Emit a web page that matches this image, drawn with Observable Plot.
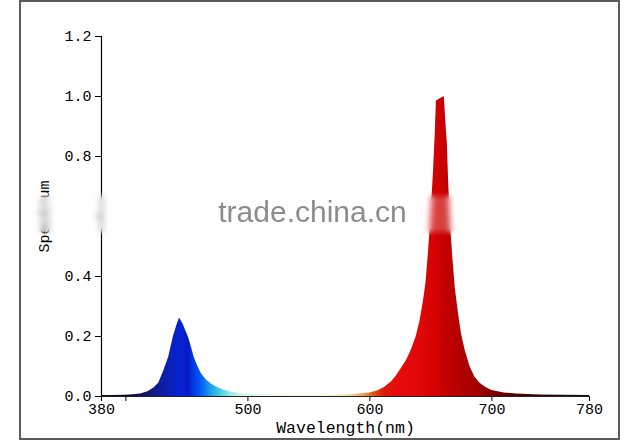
<!DOCTYPE html>
<html>
<head>
<meta charset="utf-8">
<script src="https://cdn.jsdelivr.net/npm/d3@7"></script>
<script src="https://cdn.jsdelivr.net/npm/@observablehq/plot@0.6"></script>
<style>
  html, body { margin: 0; padding: 0; background: #fff; }
  #wrap { position: relative; width: 625px; height: 446px; overflow: hidden; }
  #frame { position: absolute; left: 19px; top: 0px; width: 601px; height: 440px; box-sizing: border-box; border: 2px solid #5a5a5a; pointer-events: none; }
  #band { position: absolute; left: 0; top: 192px; width: 625px; height: 44px;
    backdrop-filter: blur(3px); -webkit-backdrop-filter: blur(3px);
    background: rgba(255,255,255,0.25);
    -webkit-mask-image: linear-gradient(to bottom, transparent 0%, #000 18%, #000 82%, transparent 100%);
    mask-image: linear-gradient(to bottom, transparent 0%, #000 18%, #000 82%, transparent 100%); }
  #wm { position: absolute; left: 0; width: 625px; top: 194px; text-align: center; font-family: "Liberation Sans", Arial, sans-serif; font-size: 30px; color: #8c8c8c; line-height: 36px; }
  svg { position: absolute; left: 0; top: 0; }
</style>
</head>
<body>
<div id="wrap"></div>
<script>
// ---- data ----
const wavelength = [380, 390, 400, 406, 412, 418, 423, 427, 431, 435, 439, 442, 444, 447, 449, 451.5, 454, 456, 459, 462, 466, 470, 475, 480, 487, 494, 500, 520, 540, 560, 580, 590, 600, 606, 612, 618, 622, 626, 630, 634, 638, 641, 644, 646, 648, 650, 652, 653.5, 654.5, 661, 662, 663.5, 664.5, 666, 668, 670, 672.5, 675, 678, 682, 686, 690, 695, 700, 710, 720, 740, 760, 780];
const spectrum   = [0.003, 0.003, 0.004, 0.006, 0.008, 0.016, 0.028, 0.045, 0.085, 0.13, 0.20, 0.24, 0.262, 0.24, 0.22, 0.195, 0.16, 0.13, 0.10, 0.075, 0.055, 0.042, 0.03, 0.022, 0.014, 0.01, 0.008, 0.006, 0.005, 0.005, 0.006, 0.008, 0.012, 0.018, 0.03, 0.05, 0.07, 0.095, 0.12, 0.155, 0.20, 0.25, 0.32, 0.38, 0.48, 0.60, 0.74, 0.87, 0.985, 1.0, 0.93, 0.84, 0.72, 0.58, 0.46, 0.36, 0.28, 0.21, 0.155, 0.10, 0.065, 0.045, 0.03, 0.02, 0.012, 0.008, 0.005, 0.004, 0.003];

const xTicks = [380, 400, 500, 600, 700, 780];
const xTickLabels = ["380", "", "500", "600", "700", "780"];
const yTicks = [0, 0.2, 0.4, 0.6, 0.8, 1.0, 1.2];
const yTickLabels = ["0.0", "0.2", "0.4", "", "0.8", "1.0", "1.2"]; // 0.6 is hidden under the watermark
const xTitle = "Wavelength(nm)";
const yTitle = "Spectrum";
const watermark = "trade.china.cn";

// colour of the fill along the wavelength axis (gradient stops)
const stopWavelength = [380, 400, 410, 420, 430, 437, 442, 447, 451, 455, 460, 465, 470, 477, 485, 495, 510, 540, 570, 585, 595, 603, 612, 625, 640, 650, 656, 662, 668, 676, 690, 700, 720, 750, 780];
const stopColor = ["#101010", "#150020", "#1a0a50", "#121878", "#0e1ea2", "#0a20b8", "#0620cc", "#0622d4", "#0818c0", "#0036e0", "#0050f2", "#1074f2", "#20a2e8", "#40c8e0", "#90e8e8", "#d0f4f0", "#e8f8ec", "#f4f8e0", "#f8f4d0", "#f4d8a0", "#e8a060", "#e05818", "#e01808", "#e60a0a", "#e20808", "#d80404", "#d00000", "#c40000", "#bc0000", "#b00000", "#a00000", "#820000", "#500000", "#201010", "#101010"];

const data = wavelength.map((w, i) => ({w, v: spectrum[i]}));

const chart = Plot.plot({
  width: 625,
  height: 446,
  marginLeft: 101,
  marginRight: 36,
  marginTop: 36,
  marginBottom: 50,
  style: {fontFamily: "'Liberation Mono', monospace", fontSize: "15px", color: "#000", background: "transparent"},
  x: {domain: [380, 780], ticks: xTicks, tickFormat: (d) => xTickLabels[xTicks.indexOf(d)], tickSize: 5, tickPadding: 2, label: null},
  y: {domain: [0, 1.2], ticks: yTicks, tickFormat: (d) => yTickLabels[yTicks.findIndex(t => Math.abs(t - d) < 1e-9)], tickSize: 6, tickPadding: 4, label: null},
  marks: [
    Plot.areaY(data, {x: "w", y: "v", fill: "url(#specgrad)", curve: "linear"}),
    Plot.ruleY([0], {stroke: "#222", strokeWidth: 1.2}),
    Plot.ruleX([380], {y1: 0, y2: 1.2, stroke: "#000", strokeWidth: 1.2}),
    Plot.text([xTitle], {frameAnchor: "bottom", textAnchor: "middle", lineAnchor: "middle", dy: 31, fontSize: 16.5, fill: "#000"}),
    Plot.text([yTitle], {frameAnchor: "left", textAnchor: "middle", lineAnchor: "middle", dx: -57, rotate: -90, fontSize: 15, fill: "#000"})
  ]
});

// gradient definition for the area fill (bounding box = 380..780)
const defs = d3.select(chart).insert("defs", ":first-child");
const grad = defs.append("linearGradient").attr("id", "specgrad").attr("x1", 0).attr("x2", 1).attr("y1", 0).attr("y2", 0);
stopWavelength.forEach((w, i) => {
  grad.append("stop").attr("offset", ((w - 380) / 400).toFixed(4)).attr("stop-color", stopColor[i]);
});

const wrap = document.getElementById("wrap");
wrap.appendChild(chart);
const band = document.createElement("div"); band.id = "band"; wrap.appendChild(band);
const wm = document.createElement("div"); wm.id = "wm"; wm.textContent = watermark; wrap.appendChild(wm);
const frame = document.createElement("div"); frame.id = "frame"; wrap.appendChild(frame);
</script>
</body>
</html>
